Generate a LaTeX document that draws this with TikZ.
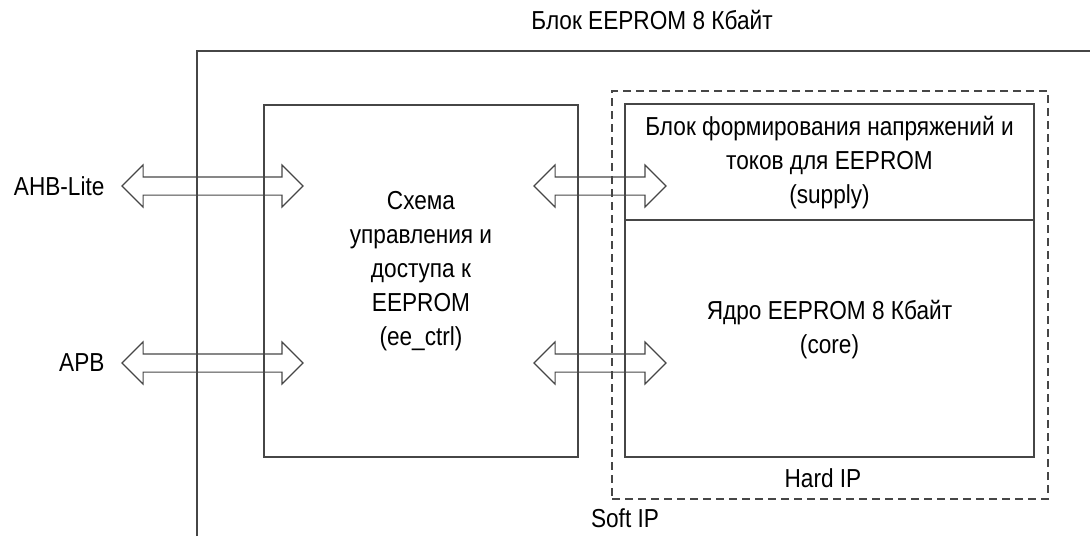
\documentclass[tikz,border=0pt]{standalone}
\usepackage{fontspec}
\setmainfont{Liberation Sans}[FakeStretch=0.87]
\usepackage{tikz}
\usetikzlibrary{shapes.arrows, positioning}
\definecolor{linegray}{RGB}{70,70,70}

\begin{document}
\begin{tikzpicture}[x=1pt, y=-1pt, line width=1.1pt,
  blk/.style={draw=linegray, inner sep=0pt},
  bus/.style={double arrow, draw=linegray, double arrow head extend=12pt,
    double arrow tip angle=90, inner xsep=0pt, inner ysep=8.5pt},
  lbl/.style={inner sep=0pt, align=center, font=\fontsize{26}{34}\selectfont}]
\useasboundingbox (0,0) rectangle (1090,536);
% outer block, cut by the page
\draw[linegray] (197,536) |- (1090,51);
\node[lbl] (title) at (652,20) {Блок EEPROM 8 Кбайт};
% soft IP part
\node[blk, minimum width=314pt, minimum height=352pt] (ctrl) at (421,281) {};
\node[lbl] (ctrltxt) at (421,271) {Схема\\управления и\\доступа к\\EEPROM\\(ee\_ctrl)};
% hard IP part
\node[blk, dashed, dash pattern=on 8pt off 5pt, minimum width=436pt, minimum height=408pt] (hardip) at (830,295) {};
\node[blk, minimum width=409pt, minimum height=116pt] (supply) at (829.5,162) {};
\node[lbl] (supplytxt) at (829.5,163) {Блок формирования напряжений и\\токов для EEPROM\\(supply)};
\node[blk, minimum width=409pt, minimum height=237pt] (core) at (829.5,338.5) {};
\node[lbl] (coretxt) at (829.5,330) {Ядро EEPROM 8 Кбайт\\(core)};
\node[lbl] (hardlbl) at (823,478) {Hard IP};
\node[lbl] (softlbl) at (625,518) {Soft IP};
% buses
\node[lbl, anchor=east] (ahb) at (105,186) {AHB-Lite};
\node[lbl, anchor=east] (apb) at (105,363) {APB};
\node[bus, minimum height=181pt] (ahbbus) at (212.5,186) {};
\node[bus, minimum height=181pt] (apbbus) at (212.5,363) {};
\node[bus, minimum height=132pt] (supplybus) at (600,186) {};
\node[bus, minimum height=132pt] (corebus) at (600,363) {};
\end{tikzpicture}
\end{document}
